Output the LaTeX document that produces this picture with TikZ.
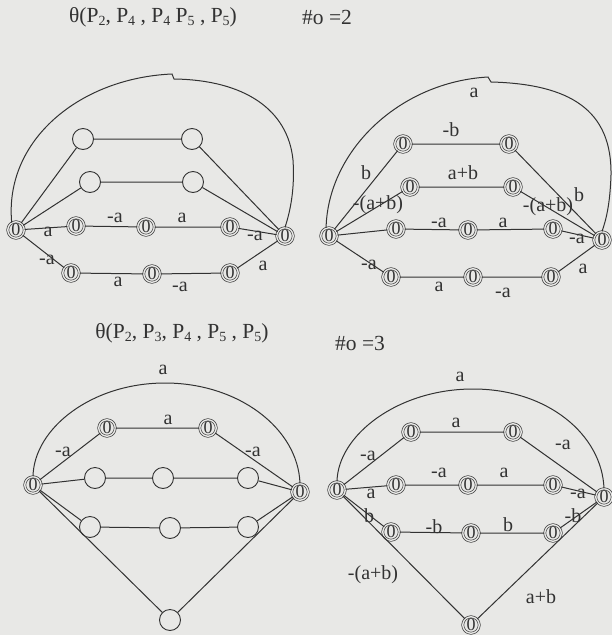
\documentclass[tikz,border=0pt]{standalone}
\usepackage{fontspec}
\setmainfont{Liberation Serif}
\newcommand\sbx[1]{\raisebox{-0.35ex}{\fontsize{14}{14}\selectfont #1}}
\definecolor{ink}{RGB}{50,50,50}
\definecolor{paper}{RGB}{232,232,230}
\begin{document}
\begin{tikzpicture}[x=1pt,y=-1pt,
  edge/.style={draw=ink, line width=1pt},
  zer/.style={circle, draw=ink, double=paper, double distance=1.4pt, line width=0.65pt, minimum size=16.5pt, inner sep=0pt, text=ink, font=\fontsize{18}{18}\selectfont},
  emp/.style={circle, draw=ink, fill=paper, line width=0.9pt, minimum size=21pt, inner sep=0pt},
  lab/.style={text=ink, inner sep=0pt, font=\fontsize{20}{20}\selectfont},
  ttl/.style={text=ink, inner sep=0pt, font=\fontsize{21.5}{21.5}\selectfont}]
\fill[paper] (0,0) rectangle (612,635);
\useasboundingbox (0,0) rectangle (612,635);

% ---------- titles ----------
\node[ttl] (t1) at (153,17) {θ(P\sbx{2}, P\sbx{4} , P\sbx{4} P\sbx{5} , P\sbx{5})};
\node[ttl] (t2) at (327,17) {\#o =2};
\node[ttl] (t3) at (182,333) {θ(P\sbx{2}, P\sbx{3}, P\sbx{4} , P\sbx{5} , P\sbx{5})};
\node[ttl] (t4) at (360,343) {\#o =3};

% ---------- top-left ----------
\node[zer] (L1) at (16,230) {0};
\node[zer] (R1) at (285,236) {0};
\node[emp] (a1) at (83,139) {};
\node[emp] (a2) at (192,139) {};
\node[emp] (b1) at (90,182) {};
\node[emp] (b2) at (193,182) {};
\node[zer] (c1) at (76,226) {0};
\node[zer] (c2) at (146,227) {0};
\node[zer] (c3) at (230,227) {0};
\node[zer] (d1) at (71,273) {0};
\node[zer] (d2) at (152,274) {0};
\node[zer] (d3) at (230,273) {0};
\path[edge] (L1) -- (a1) -- (a2) -- (R1);
\path[edge] (L1) -- (b1) -- (b2) -- (R1);
\path[edge] (L1) -- (c1) -- (c2) -- (c3) -- (R1);
\path[edge] (L1) -- (d1) -- (d2) -- (d3) -- (R1);
\coordinate (k1) at (172,74);
\coordinate (k1b) at (174,79);
\path[edge] (L1.120) .. controls (4,140) and (80,78) .. (k1) -- (k1b)
  .. controls (245,80) and (288,110) .. (293,160)
  .. controls (295,190) and (290,212) .. (R1.north);
\node[lab] at (48,232) {a};
\node[lab] at (115,218) {-a};
\node[lab] at (182,218) {a};
\node[lab] at (255,236) {-a};
\node[lab] at (47,260) {-a};
\node[lab] at (118,282) {a};
\node[lab] at (180,287) {-a};
\node[lab] at (263,266) {a};

% ---------- top-right ----------
\node[zer] (L2) at (329,236) {0};
\node[zer] (R2) at (602,240) {0};
\node[zer] (e1) at (403,144) {0};
\node[zer] (e2) at (509,144) {0};
\node[zer] (f1) at (410,187) {0};
\node[zer] (f2) at (513,187) {0};
\node[zer] (g1) at (396,229) {0};
\node[zer] (g2) at (468,230) {0};
\node[zer] (g3) at (553,229) {0};
\node[zer] (h1) at (391,277) {0};
\node[zer] (h2) at (473,277) {0};
\node[zer] (h3) at (551,277) {0};
\path[edge] (L2) -- (e1) -- (e2) -- (R2);
\path[edge] (L2) -- (f1) -- (f2) -- (R2);
\path[edge] (L2) -- (g1) -- (g2) -- (g3) -- (R2);
\path[edge] (L2) -- (h1) -- (h2) -- (h3) -- (R2);
\coordinate (k2) at (488,77);
\coordinate (k2b) at (491,82);
\path[edge] (L2.110) .. controls (328,150) and (400,82) .. (k2) -- (k2b)
  .. controls (570,84) and (612,110) .. (611,175)
  .. controls (610,205) and (606,220) .. (R2.north);
\node[lab] at (474,93) {a};
\node[lab] at (451,130) {-b};
\node[lab] at (366,173) {b};
\node[lab] at (463,173) {a+b};
\node[lab] at (378,205) {-(a+b)};
\node[lab] at (548,207) {-(a+b)};
\node[lab] at (579,195) {b};
\node[lab] at (439,223) {-a};
\node[lab] at (503,223) {a};
\node[lab] at (577,239) {-a};
\node[lab] at (369,265) {-a};
\node[lab] at (439,287) {a};
\node[lab] at (503,293) {-a};
\node[lab] at (583,269) {a};

% ---------- bottom-left ----------
\node[zer] (L3) at (33,485) {0};
\node[zer] (R3) at (300,492) {0};
\node[zer] (i1) at (107,428) {0};
\node[zer] (i2) at (208,428) {0};
\node[emp] (j1) at (95,478) {};
\node[emp] (j2) at (163,478) {};
\node[emp] (j3) at (248,478) {};
\node[emp] (k1n) at (90,527) {};
\node[emp] (k2n) at (170,528) {};
\node[emp] (k3n) at (248,527) {};
\node[emp] (m) at (170,620) {};
\path[edge] (L3) -- (i1) -- (i2) -- (R3);
\path[edge] (L3) -- (j1) -- (j2) -- (j3) -- (R3);
\path[edge] (L3) -- (k1n) -- (k2n) -- (k3n) -- (R3);
\path[edge] (L3) -- (m) -- (R3);
\coordinate (k3) at (165,383);
\path[edge] (L3.north) .. controls (34,428) and (92,383) .. (k3)
  .. controls (238,383) and (298,428) .. (R3.north);
\node[lab] at (163,370) {a};
\node[lab] at (168,420) {a};
\node[lab] at (63,452) {-a};
\node[lab] at (253,452) {-a};

% ---------- bottom-right ----------
\node[zer] (L4) at (337,490) {0};
\node[zer] (R4) at (604,497) {0};
\node[zer] (n1) at (411,432) {0};
\node[zer] (n2) at (513,432) {0};
\node[zer] (o1) at (396,485) {0};
\node[zer] (o2) at (468,485) {0};
\node[zer] (o3) at (553,485) {0};
\node[zer] (p1) at (391,532) {0};
\node[zer] (p2) at (471,533) {0};
\node[zer] (p3) at (553,533) {0};
\node[zer] (q) at (471,625) {0};
\path[edge] (L4) -- (n1) -- (n2) -- (R4);
\path[edge] (L4) -- (o1) -- (o2) -- (o3) -- (R4);
\path[edge] (L4) -- (p1) -- (p2) -- (p3) -- (R4);
\path[edge] (L4) -- (q) -- (R4);
\coordinate (k4) at (473,389);
\path[edge] (L4.north) .. controls (338,435) and (398,389) .. (k4)
  .. controls (548,389) and (602,435) .. (R4.north);
\node[lab] at (460,377) {a};
\node[lab] at (456,423) {a};
\node[lab] at (368,456) {-a};
\node[lab] at (563,445) {-a};
\node[lab] at (439,473) {-a};
\node[lab] at (504,473) {a};
\node[lab] at (371,494) {a};
\node[lab] at (578,494) {-a};
\node[lab] at (369,516) {b};
\node[lab] at (434,527) {-b};
\node[lab] at (508,525) {b};
\node[lab] at (573,516) {-b};
\node[lab] at (373,575) {-(a+b)};
\node[lab] at (541,597) {a+b};
\end{tikzpicture}
\end{document}
